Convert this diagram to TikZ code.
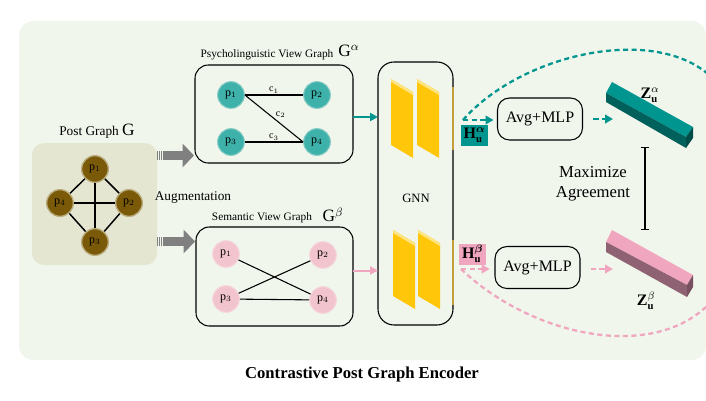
\documentclass[tikz,border=0pt]{standalone}
\usepackage{amsmath}
\usepackage{fontspec}
\setmainfont{Liberation Serif}
\usetikzlibrary{positioning, arrows.meta, calc}
\definecolor{bgmint}{RGB}{240,246,236}
\definecolor{postsand}{RGB}{228,230,210}
\definecolor{postnode}{RGB}{122,90,8}
\definecolor{postglow}{RGB}{186,172,124}
\definecolor{psyteal}{RGB}{62,177,170}
\definecolor{psyglow}{RGB}{130,202,196}
\definecolor{sempink}{RGB}{242,196,205}
\definecolor{semglow}{RGB}{246,214,220}
\definecolor{darkteal}{RGB}{0,150,143}
\definecolor{deepteal}{RGB}{0,96,92}
\definecolor{endteal}{RGB}{0,76,72}
\definecolor{hotpink}{RGB}{240,166,190}
\definecolor{mauve}{RGB}{142,98,114}
\definecolor{endmauve}{RGB}{120,80,96}
\definecolor{gnngold}{RGB}{255,198,10}
\definecolor{gnnlight}{RGB}{255,228,130}
\definecolor{gnnedge}{RGB}{196,158,60}
\definecolor{fatgray}{RGB}{128,128,128}
\tikzset{
  graph box/.style={
    draw=black,
    line width=0.8pt,
    rounded corners=10pt,
    inner sep=0pt,
    outer sep=0pt
  },
  post node/.style={
    circle,
    fill=postnode,
    draw=postglow,
    line width=1pt,
    minimum size=20pt,
    inner sep=0pt,
    font=\fontsize{9}{10}\selectfont
  },
  psy node/.style={
    post node,
    fill=psyteal,
    draw=psyglow,
    line width=0.8pt
  },
  sem node/.style={
    post node,
    fill=sempink,
    draw=semglow,
    line width=0.8pt
  },
  edge label/.style={
    font=\fontsize{7.5}{8}\selectfont,
    inner sep=1pt
  },
  title label/.style={
    font=\fontsize{8.5}{10}\selectfont,
    inner sep=0pt
  },
  fat arrow/.style={
    draw=fatgray,
    line width=6.75pt,
    -{Triangle[width=17.25pt,length=8.5pt]},
    dash pattern=on 0.8pt off 0.7pt on 0.8pt off 0.7pt on 0.8pt off 0.7pt on 60pt
  },
  view arrow/.style={
    line width=1.5pt,
    -{Triangle[width=6pt,length=6pt]}
  },
  dash arrow/.style={
    line width=1.6pt,
    dash pattern=on 4pt off 2.5pt,
    -{Triangle[width=6.5pt,length=6pt]}
  },
  dash curve/.style={
    line width=1.7pt,
    dash pattern=on 3.8pt off 2.6pt
  },
  avg box/.style={
    graph box,
    rounded corners=9pt,
    minimum width=63.75pt,
    minimum height=31.5pt,
    font=\fontsize{12}{14}\selectfont
  },
  h label/.style={
    inner sep=0pt,
    minimum width=20.25pt,
    minimum height=15.75pt,
    font=\fontsize{12}{14}\selectfont
  },
  z label/.style={
    inner sep=0pt,
    font=\fontsize{12}{14}\selectfont
  }
}
\begin{document}
\begin{tikzpicture}[x=0.75pt, y=-0.75pt]
  \useasboundingbox (0,0) rectangle (706,400);
  \fill[bgmint, rounded corners=11pt] (19,21) rectangle (706,360);

  % post graph
  \node[fill=postsand, rounded corners=9pt, inner sep=0pt, outer sep=0pt,
        minimum width=93.75pt, minimum height=91.5pt] (post) at (94.5,204) {};
  \node[inner sep=0pt, font=\fontsize{10}{12}\selectfont] (postlabel) at (97,131)
    {Post Graph {\fontsize{13}{14}\selectfont G}};
  \node[post node] (q1) at (95,169) {p$_1$};
  \node[post node] (q4) at (60,203) {p$_4$};
  \node[post node] (q2) at (129,203) {p$_2$};
  \node[post node] (q3) at (95,242) {p$_3$};
  \draw[line width=1.1pt] (q1) -- (q4);
  \draw[line width=1.1pt] (q1) -- (q2);
  \draw[line width=1.1pt] (q1) -- (q3);
  \draw[line width=1.1pt] (q4) -- (q2);
  \draw[line width=1.1pt] (q4) -- (q3);
  \draw[line width=1.1pt] (q2) -- (q3);

  % augmentation
  \node[graph box, minimum width=118.5pt, minimum height=73.5pt] (psy) at (274,114) {};
  \node[graph box, minimum width=117.75pt, minimum height=74.25pt] (sem) at (274.5,276.5) {};
  \coordinate (augA) at (157,155.5);
  \coordinate (augB) at (157,241.5);
  \draw[fat arrow] (post.east |- augA) -- ([xshift=-0.75pt]psy.west |- augA);
  \draw[fat arrow] (post.east |- augB) -- ([xshift=-0.75pt]sem.west |- augB);
  \node[inner sep=0pt, font=\fontsize{10}{12}\selectfont] (auglabel) at (193,198) {Augmentation};

  % psycholinguistic view
  \node[title label] (psylabel) at (267,55) {Psycholinguistic View Graph};
  \node[inner sep=0pt, font=\fontsize{13}{14}\selectfont] (psyG) at (349,51) {G$^{\alpha}$};
  \node[psy node] (a1) at (231,95) {p$_1$};
  \node[psy node] (a2) at (317,95) {p$_2$};
  \node[psy node] (a3) at (231,142) {p$_3$};
  \node[psy node] (a4) at (317,142) {p$_4$};
  \draw[line width=0.8pt] (a1) -- node[edge label, above] {c$_1$} (a2);
  \draw[line width=0.8pt] (a1.east) -- node[edge label, above right=-1pt and 0pt] {c$_2$} (a4.west);
  \draw[line width=0.8pt] (a3) -- node[edge label, above] {c$_3$} (a4);

  % semantic view
  \node[title label] (semlabel) at (262,218) {Semantic View Graph};
  \node[inner sep=0pt, font=\fontsize{13}{14}\selectfont] (semG) at (333,215) {G$^{\beta}$};
  \node[sem node] (b1) at (226,254) {p$_1$};
  \node[sem node] (b2) at (323,255) {p$_2$};
  \node[sem node] (b3) at (226,299) {p$_3$};
  \node[sem node] (b4) at (323,300) {p$_4$};
  \draw[line width=0.8pt] (b1) -- (b4);
  \draw[line width=0.8pt] (b3) -- (b2);
  \draw[line width=0.8pt] (b3) -- (b4);

  % gnn encoder
  \node[graph box, rounded corners=12pt, minimum width=56.25pt, minimum height=197.25pt] (gnn) at (415.5,193.5) {};
  \foreach \px/\py in {391/79, 417/79, 393/230, 418/230} {
    \fill[gnngold] (\px,\py) -- (\px+22,\py+13) -- (\px+22,\py+79) -- (\px,\py+66) -- cycle;
    \fill[gnnlight] (\px,\py) -- (\px+22,\py+13) -- (\px+22,\py+16) -- (\px,\py+3) -- cycle;
  }
  \draw[gnnedge, line width=1.5pt] (453,87) -- (453,150);
  \draw[gnnedge, line width=1.5pt] (453,240) -- (453,305);
  \node[inner sep=0pt, font=\fontsize{9.5}{11}\selectfont] (gnnlabel) at (416,198) {GNN};
  \draw[view arrow, darkteal] ([yshift=-2.25pt]psy.east) -- ([yshift=-2.25pt]psy.east -| gnn.west);
  \draw[view arrow, hotpink] ([yshift=4.5pt]sem.east) -- ([yshift=4.5pt]sem.east -| gnn.west);

  % node embeddings
  \node[h label, fill=darkteal] (hA) at (474.5,135.5) {$\mathbf{H}_{\mathbf{u}}^{\boldsymbol{\alpha}}$};
  \node[h label, fill=hotpink] (hB) at (472.5,254) {$\mathbf{H}_{\mathbf{u}}^{\boldsymbol{\beta}}$};
  \node[avg box] (avgA) at (540,119) {Avg+MLP};
  \node[avg box] (avgB) at (537.5,267.5) {Avg+MLP};
  \coordinate (hAtip) at (463,120);
  \coordinate (hBtip) at (461,269);
  \draw[dash arrow, darkteal, shorten >=3pt] (hAtip) -- (hAtip -| avgA.west);
  \draw[dash arrow, hotpink, shorten >=4pt] (hBtip) -- (hBtip -| avgB.west);
  \draw[dash curve, darkteal] (hAtip) .. controls (520,55) and (650,25) .. (708,74);
  \draw[dash curve, hotpink] (hBtip) .. controls (530,335) and (650,362) .. (708,305);

  % graph embeddings
  \coordinate (zAin) at (613,119);
  \coordinate (zBin) at (613,269);
  \draw[dash arrow, darkteal, shorten <=8pt] (avgA.east |- zAin) -- (zAin);
  \draw[dash arrow, hotpink, shorten <=8pt] (avgB.east |- zBin) -- (zBin);
  \fill[darkteal] (612,82) -- (693,127) -- (686,137) -- (606,93) -- cycle;
  \fill[deepteal] (606,93) -- (686,137) -- (686,148) -- (606,102) -- cycle;
  \fill[endteal] (686,137) -- (693,127) -- (693,138) -- (686,148) -- cycle;
  \fill[hotpink] (612,230) -- (693,275) -- (687,285) -- (606,242) -- cycle;
  \fill[mauve] (606,242) -- (687,285) -- (687,297) -- (606,252) -- cycle;
  \fill[endmauve] (687,285) -- (693,275) -- (693,287) -- (687,297) -- cycle;
  \node[z label] (zA) at (650,95) {$\mathbf{Z}_{\mathbf{u}}^{\alpha}$};
  \node[z label] (zB) at (646,301) {$\mathbf{Z}_{\mathbf{u}}^{\beta}$};

  % contrast
  \node[inner sep=0pt, align=center, font=\fontsize{12.5}{15}\selectfont] (agree) at (593,184) {Maximize\\Agreement};
  \coordinate (agreeTop) at (645,147);
  \coordinate (agreeBot) at (645,230);
  \draw[line width=0.8pt, {Bar[width=6pt]}-{Bar[width=6pt]}] (agreeTop) -- (agreeBot);

  \node[inner sep=0pt, font=\bfseries\fontsize{12.5}{15}\selectfont] (caption) at (362,374) {Contrastive Post Graph Encoder};
\end{tikzpicture}
\end{document}
